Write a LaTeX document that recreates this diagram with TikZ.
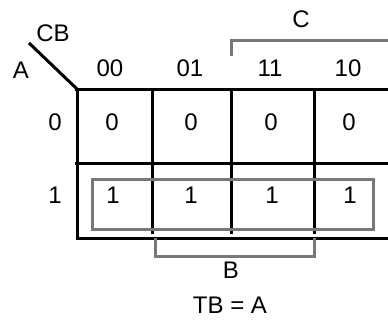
\documentclass[tikz,border=0pt]{standalone}
\usepackage{fontspec}
\setmainfont{Liberation Sans}
\definecolor{grp}{RGB}{120,120,120}
\tikzset{
  lbl/.style={inner sep=0pt, font=\fontsize{24}{28}\selectfont},
  gridline/.style={line width=3pt, black},
  greyline/.style={line width=3pt, color=grp},
}
\begin{document}
\begin{tikzpicture}[x=1pt,y=-1pt]
\useasboundingbox (0,0) rectangle (388,321);
% grid
\draw[gridline] (75,89.5) -- (388,89.5);
\draw[gridline] (75,163) -- (388,163);
\draw[gridline] (77,238) -- (388,238);
\draw[gridline] (77,88) -- (77,239.5);
\foreach \x in {152,231,314} \draw[gridline] (\x,88) -- (\x,234);
% diagonal
\coordinate (dA) at (29,43);
\coordinate (dB) at (77,89);
\draw[gridline] (dA) -- (dB);
% group box
\draw[greyline] (92,179) rectangle (373,229);
% brackets
\draw[greyline] (155,238) -- (155,256) -- (314,256) -- (314,238);
\draw[greyline] (231,56) -- (231,41) -- (388,41);
% labels
\node[lbl] (cb) at (53,33) {CB};
\node[lbl] (a) at (21,70) {A};
\node[lbl] (c) at (301,19) {C};
\node[lbl] (h1) at (110,68) {00};
\node[lbl] (h2) at (190,68) {01};
\node[lbl] (h3) at (270,68) {11};
\node[lbl] (h4) at (348,68) {10};
\node[lbl] (r0) at (55,122) {0};
\node[lbl] (r1) at (55,195) {1};
\node[lbl] (c00) at (112,122) {0};
\node[lbl] (c01) at (191,122) {0};
\node[lbl] (c03) at (271,122) {0};
\node[lbl] (c02) at (349,122) {0};
\node[lbl] (c10) at (113,195) {1};
\node[lbl] (c11) at (191,195) {1};
\node[lbl] (c13) at (272,195) {1};
\node[lbl] (c12) at (350,195) {1};
\node[lbl] (b) at (231,270) {B};
\node[lbl] (eq) at (230,305) {TB = A};
\end{tikzpicture}
\end{document}
